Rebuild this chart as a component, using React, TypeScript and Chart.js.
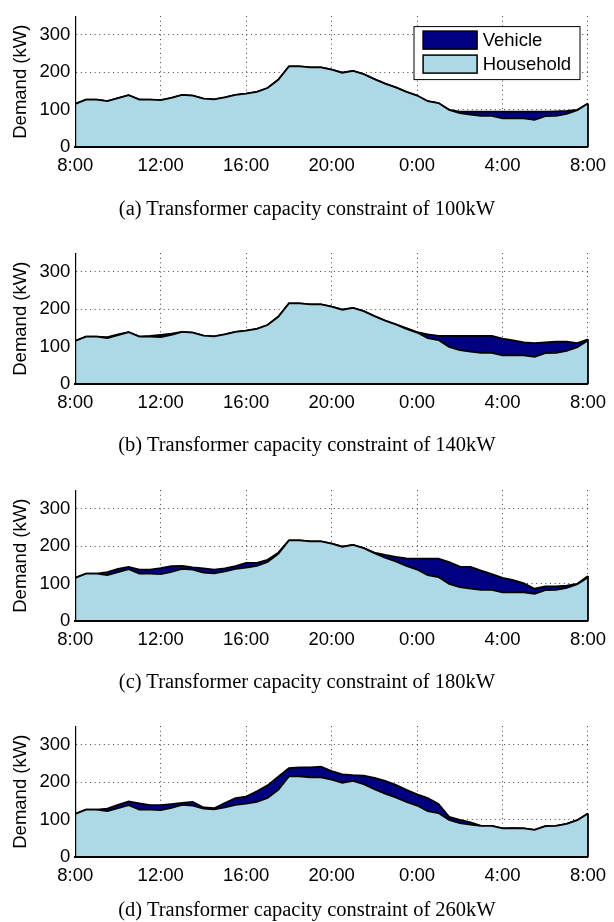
import React, { useEffect, useRef } from "react";
import { Chart, registerables } from "chart.js";

Chart.register(...registerables);

// ---- data ----
const STEP_HOURS = 0.5; // samples every 30 minutes, starting 8:00
const X_TICK_LABELS = ["8:00", "12:00", "16:00", "20:00", "0:00", "4:00", "8:00"];
const X_TICK_STEP = 4;
const Y_TICKS = [0, 100, 200, 300];
const Y_MAX = 350;

const household = [
  116, 127, 127, 123, 131, 139, 127, 127, 126, 132, 140, 138, 130, 128, 133, 140,
  143, 148, 158, 180, 216, 216, 213, 213, 207, 199, 204, 195, 182, 170, 160, 148,
  138, 123, 118, 100, 91, 87, 84, 84, 77, 78, 77, 73, 83, 84, 89, 99, 117,
];

const vehicle100 = [
  0, 0, 0, 0, 0, 0, 0, 0, 0, 0, 0, 0, 0, 0, 0, 0,
  0, 0, 0, 0, 0, 0, 0, 0, 0, 0, 0, 0, 0, 0, 0, 0,
  0, 0, 0, 0, 4, 8, 11, 11, 18, 17, 18, 22, 12, 12, 8, 1, 0,
];

const vehicle140 = [
  0, 0, 0, 3, 2, 0, 0, 2, 6, 3, 0, 0, 0, 0, 0, 0,
  0, 0, 0, 0, 0, 0, 0, 0, 0, 0, 0, 0, 0, 0, 0, 2,
  1, 10, 11, 29, 38, 42, 45, 45, 45, 39, 35, 37, 29, 30, 25, 11, 3,
];

const vehicle180 = [
  0, 0, 0, 8, 9, 6, 11, 11, 16, 15, 8, 6, 11, 10, 8, 7,
  13, 8, 6, 3, 0, 0, 0, 0, 0, 0, 0, 0, 1, 7, 12, 20,
  29, 44, 49, 58, 55, 58, 51, 42, 39, 32, 24, 14, 10, 9, 6, 1, 4,
];

const vehicle260 = [
  0, 0, 0, 7, 9, 10, 17, 12, 13, 10, 5, 10, 3, 3, 12, 18,
  19, 28, 34, 35, 22, 24, 27, 29, 23, 22, 15, 23, 30, 34, 33, 32,
  30, 35, 24, 8, 9, 6, 0, 0, 0, 0, 0, 0, 0, 0, 0, 0, 0,
];

const CAPTIONS = [
  "(a) Transformer capacity constraint of 100kW",
  "(b) Transformer capacity constraint of 140kW",
  "(c) Transformer capacity constraint of 180kW",
  "(d) Transformer capacity constraint of 260kW",
];
const VEHICLE_SERIES = [vehicle100, vehicle140, vehicle180, vehicle260];
const SERIES_LABELS = { household: "Household", vehicle: "Vehicle" };
const Y_TITLE = "Demand (kW)";

// ---- layout / style ----
const W = 614;
const CANVAS_H = 200;
const PANEL_TOPS = [0, 237, 474, 710];
const CAPTION_TOPS = [196, 432, 669, 897];
const SANS = '"Liberation Sans", Arial, Helvetica, sans-serif';
const SERIF = '"Liberation Serif", "Times New Roman", serif';
const FONT_SIZE = 18.5;
const HOUSE_COLOR = "#ADD8E6";
const VEHICLE_COLOR = "#000080";
const GRID_COLOR = "rgba(0,0,0,0.75)";

const rightEdgePlugin = {
  id: "rightEdge",
  afterDatasetsDraw(chart: any) {
    const { ctx, scales } = chart;
    const meta = chart.getDatasetMeta(1);
    const last = meta.data[meta.data.length - 1];
    if (!last) return;
    ctx.save();
    ctx.strokeStyle = "#000";
    ctx.lineWidth = 1.8;
    ctx.beginPath();
    ctx.moveTo(last.x, scales.y.getPixelForValue(0));
    ctx.lineTo(last.x, last.y);
    ctx.stroke();
    ctx.restore();
  },
};

const insideLegendPlugin = {
  id: "insideLegend",
  afterDraw(chart: any) {
    const { ctx, chartArea } = chart;
    const boxW = 166;
    const boxH = 53;
    const right = chartArea.right - 8.5;
    const top = chartArea.top + 10;
    const left = right - boxW;
    ctx.save();
    ctx.fillStyle = "#fff";
    ctx.fillRect(left, top, boxW, boxH);
    ctx.strokeStyle = "#000";
    ctx.lineWidth = 1;
    ctx.strokeRect(left + 0.5, top + 0.5, boxW, boxH);
    const order = [1, 0];
    order.forEach((di, k) => {
      const ds = chart.data.datasets[di];
      const sy = top + 5 + k * 24;
      const sx = left + 9.6;
      ctx.fillStyle = ds.backgroundColor;
      ctx.fillRect(sx, sy, 54, 18);
      ctx.strokeStyle = "#000";
      ctx.lineWidth = 1.5;
      ctx.strokeRect(sx, sy, 54, 18);
      ctx.fillStyle = "#000";
      ctx.font = `${FONT_SIZE}px ${SANS}`;
      ctx.textBaseline = "middle";
      ctx.textAlign = "left";
      ctx.fillText(ds.label, sx + 54 + 5.6, sy + 9.5);
    });
    ctx.restore();
  },
};

function toPoints(values: number[]) {
  return values.map((v, i) => ({ x: i * STEP_HOURS, y: v }));
}

function Panel({ idx }: { idx: number }) {
  const ref = useRef<HTMLCanvasElement>(null);
  useEffect(() => {
    const plugins: any[] = [rightEdgePlugin];
    if (idx === 0) plugins.push(insideLegendPlugin);
    const tickFont = { family: SANS, size: FONT_SIZE };
    const chart = new Chart(ref.current as HTMLCanvasElement, {
      type: "line",
      data: {
        datasets: [
          {
            label: SERIES_LABELS.household,
            data: toPoints(household),
            backgroundColor: HOUSE_COLOR,
            borderColor: "#000",
            borderWidth: 1.8,
            fill: "origin",
            pointRadius: 0,
            tension: 0,
          },
          {
            label: SERIES_LABELS.vehicle,
            data: toPoints(VEHICLE_SERIES[idx]),
            backgroundColor: VEHICLE_COLOR,
            borderColor: "#000",
            borderWidth: 1.8,
            fill: "-1",
            pointRadius: 0,
            tension: 0,
          },
        ],
      } as any,
      options: {
        responsive: false,
        animation: false,
        devicePixelRatio: 1,
        events: [],
        layout: { padding: { left: 0, right: 20.7, top: 12.7, bottom: 0 } },
        plugins: {
          legend: { display: false },
          tooltip: { enabled: false },
          title: { display: false },
        },
        scales: {
          x: {
            type: "linear",
            min: 0,
            max: (X_TICK_LABELS.length - 1) * X_TICK_STEP,
            afterBuildTicks: (s: any) => {
              s.ticks = X_TICK_LABELS.map((_, i) => ({ value: i * X_TICK_STEP }));
            },
            ticks: {
              callback: (v: any) => X_TICK_LABELS[Math.round(Number(v) / X_TICK_STEP)],
              color: "#000",
              font: tickFont,
              padding: 8,
              maxRotation: 0,
              autoSkip: false,
            },
            grid: { color: GRID_COLOR, lineWidth: 1, drawTicks: false },
            border: { display: true, color: "#000", width: 2, dash: [1, 3.6], z: 1 },
            afterFit: (s: any) => {
              s.height = CANVAS_H - 147.3;
            },
          },
          y: {
            type: "linear",
            min: 0,
            max: Y_MAX,
            stacked: true,
            afterBuildTicks: (s: any) => {
              s.ticks = Y_TICKS.map((v) => ({ value: v }));
            },
            ticks: { color: "#000", font: tickFont, padding: 5 },
            grid: { color: GRID_COLOR, lineWidth: 1, drawTicks: false },
            border: { display: true, color: "#000", width: 1.2, dash: [1, 3.6], z: 1 },
            title: {
              display: true,
              text: Y_TITLE,
              color: "#000",
              font: tickFont,
              padding: { top: 10, bottom: 0 },
            },
            afterFit: (s: any) => {
              s.width = 75.3;
            },
          },
        },
      } as any,
      plugins,
    });
    return () => chart.destroy();
  }, [idx]);
  const top = PANEL_TOPS[idx];
  return (
    <>
      <canvas
        ref={ref}
        width={W}
        height={CANVAS_H}
        style={{ position: "absolute", left: 0, top, width: W, height: CANVAS_H }}
      />
      <div
        style={{
          position: "absolute",
          left: 0,
          top: CAPTION_TOPS[idx],
          width: W,
          height: 24,
          lineHeight: "24px",
          textAlign: "center",
          fontFamily: SERIF,
          fontSize: 20.5,
          color: "#000",
          whiteSpace: "nowrap",
        }}
      >
        {CAPTIONS[idx]}
      </div>
    </>
  );
}

export default function App() {
  return (
    <div
      style={{
        position: "absolute",
        left: 0,
        top: 0,
        width: W,
        height: 922,
        background: "#fff",
        overflow: "hidden",
      }}
    >
      {CAPTIONS.map((_, i) => (
        <Panel key={i} idx={i} />
      ))}
    </div>
  );
}
